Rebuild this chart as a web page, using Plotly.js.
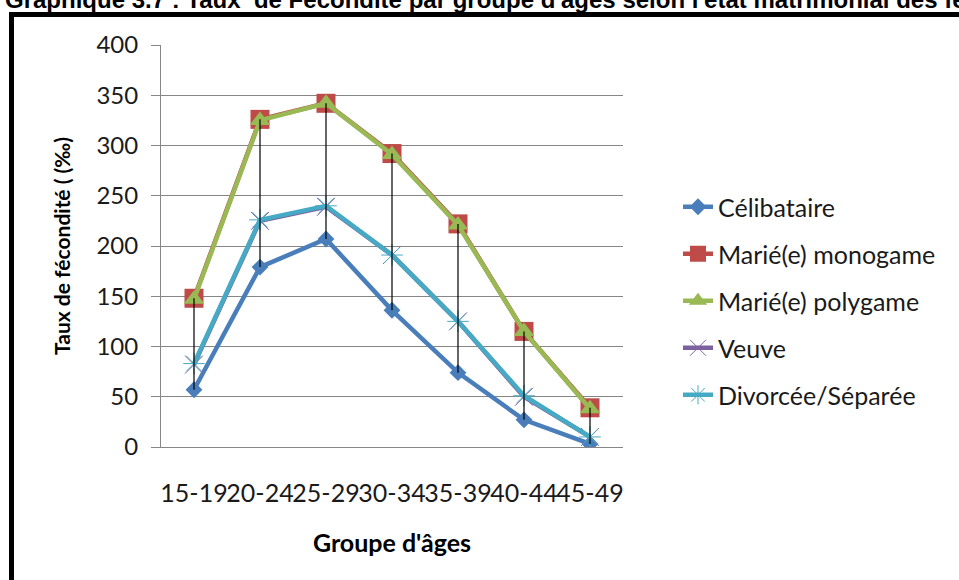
<!DOCTYPE html>
<html>
<head>
<meta charset="utf-8">
<script src="https://cdn.plot.ly/plotly-3.0.1.min.js"></script>
<style>
  html, body { margin: 0; padding: 0; background: #ffffff; }
  #chart { width: 959px; height: 580px; }
</style>
</head>
<body>
<div id="chart"></div>
<script>
// ---- Data ----
const categories = ['15-19', '20-24', '25-29', '30-34', '35-39', '40-44', '45-49'];
const celibataire = [57, 179, 207, 136, 74, 27, 3];
const marieMonogame = [148, 326, 342, 292, 222, 115, 39];
const mariePolygame = [147, 325, 342, 291, 221, 115, 38];
const veuve = [82, 225, 239, 191, 125, 50, 10];
const divorcee = [83, 226, 240, 191, 125, 51, 10];

const seriesNames = ['Célibataire', 'Marié(e) monogame', 'Marié(e) polygame', 'Veuve', 'Divorcée/Séparée'];

const titleText = "Graphique 3.7 : Taux  de Fécondité par groupe d'âges selon l'état matrimonial des femmes";
const xTitle = "Groupe d'âges";
const yTitle = "Taux de fécondité ( (‰)";

// ---- Styles ----
const FONT = 'Lato, sans-serif';
const styles = [
  {color: '#4A7EBB', symbol: 'diamond', size: 13, mline: 0},
  {color: '#BE4B48', symbol: 'square', size: 19, mline: 0},
  {color: '#98B954', symbol: 'triangle-up', size: 18, mline: 0},
  {color: '#7D60A0', symbol: 'x-thin-open', size: 18, mline: 1},
  {color: '#46AAC5', symbol: 'asterisk-open', size: 18, mline: 1}
];
const allSeries = [celibataire, marieMonogame, mariePolygame, veuve, divorcee];

const traces = allSeries.map((vals, i) => ({
  type: 'scatter',
  mode: 'lines+markers',
  name: seriesNames[i],
  legendgroup: 'g' + i,
  x: categories,
  y: vals,
  line: {color: styles[i].color, width: 4.5},
  marker: {
    symbol: styles[i].symbol,
    size: styles[i].size,
    color: styles[i].color,
    line: {color: styles[i].color, width: styles[i].mline}
  },
  hoverinfo: 'x+y+name'
}));

// High-low lines (from max to min of all series at each category)
const hlX = [], hlY = [];
categories.forEach((c, k) => {
  const vals = allSeries.map(s => s[k]);
  hlX.push(c, c, null);
  hlY.push(Math.max(...vals), Math.min(...vals), null);
});
traces.push({
  type: 'scatter',
  mode: 'lines',
  x: hlX,
  y: hlY,
  line: {color: '#000000', width: 1.2},
  showlegend: false,
  hoverinfo: 'skip'
});

// plot area in pixels: x 161..623, y 45..447
const L = 161, R = 623, T = 45, B = 447;
const px2x = p => (p - L) / (R - L);
const px2y = p => (B - p) / (B - T);

const layout = {
  width: 959,
  height: 580,
  margin: {l: L, r: 959 - R, t: T, b: 580 - B},
  paper_bgcolor: '#ffffff',
  plot_bgcolor: '#ffffff',
  font: {family: FONT, color: '#1a1a1a', size: 24},
  title: {
    text: titleText,
    font: {family: 'Liberation Sans, Arial, sans-serif', size: 24, color: '#000000', weight: 'bold'},
    x: 5 / 959, xanchor: 'left', xref: 'container',
    y: 1, yanchor: 'middle', yref: 'container'
  },
  xaxis: {
    type: 'category',
    range: [-0.5, 6.5],
    showline: true, linecolor: '#868686', linewidth: 1,
    showgrid: false, zeroline: false,
    ticks: '',
    tickangle: 0,
    tickfont: {family: FONT, size: 25, color: '#1a1a1a'},
    ticklabelstandoff: 24,
    title: {text: xTitle, font: {family: FONT, size: 25, color: '#000000', weight: 'bold'}, standoff: 28}
  },
  yaxis: {
    range: [0, 400],
    dtick: 50,
    showline: true, linecolor: '#868686', linewidth: 1,
    showgrid: true, gridcolor: '#868686', gridwidth: 1,
    zeroline: false,
    ticks: 'outside', ticklen: 9, tickcolor: '#868686', tickwidth: 1,
    tickfont: {family: FONT, size: 24, color: '#1a1a1a'},
    ticklabelstandoff: 8,
    title: {text: yTitle, font: {family: FONT, size: 21, color: '#000000', weight: 'bold'}, standoff: 20}
  },
  legend: {
    x: px2x(678), xanchor: 'left',
    y: px2y(301), yanchor: 'middle',
    font: {family: FONT, size: 25, color: '#1a1a1a'},
    traceorder: 'grouped',
    tracegroupgap: 11.5,
    bgcolor: 'rgba(0,0,0,0)'
  },
  shapes: [{
    type: 'rect', xref: 'paper', yref: 'paper',
    x0: px2x(11.5), x1: px2x(1100),
    y0: px2y(700), y1: px2y(14.5),
    line: {color: '#000000', width: 5},
    fillcolor: 'rgba(0,0,0,0)'
  }],
  showlegend: true
};

Plotly.newPlot('chart', traces, layout, {displayModeBar: false, responsive: false});
</script>
</body>
</html>
